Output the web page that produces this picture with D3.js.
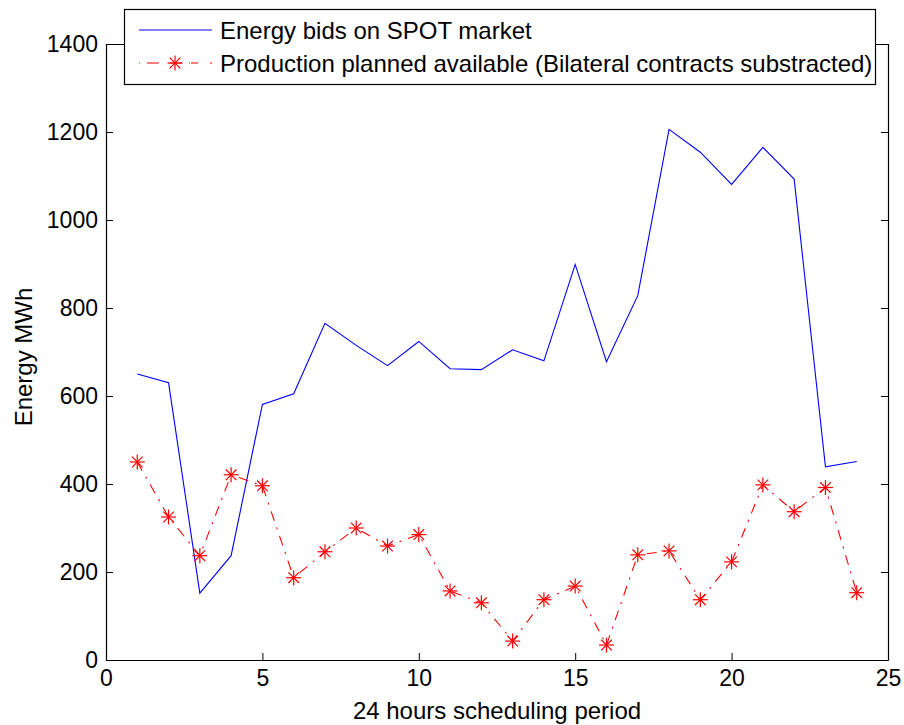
<!DOCTYPE html>
<meta charset="utf-8">
<script src="https://d3js.org/d3.v7.min.js"></script>
<style>
  body { margin: 0; background: #fff; }
  text { font-family: "Liberation Sans", Arial, sans-serif; }
</style>
<div id="chart"></div>
<script>
  // data
  var hours = d3.range(1, 25);
  var spotBids = [650, 630, 152, 237, 581, 605, 765, 715, 669, 724, 662, 660,
                  705, 680, 899, 678, 828, 1206, 1154, 1081, 1165, 1093, 439, 451];
  var planned = [450, 325, 237, 421, 396, 187, 246, 300, 259, 285, 157, 130,
                 43, 137, 168, 34, 239, 248, 137, 223, 398, 337, 392, 153];
  var xTicks = [0, 5, 10, 15, 20, 25];
  var yTicks = [0, 200, 400, 600, 800, 1000, 1200, 1400];
  var legendLabels = ["Energy bids on SPOT market",
                      "Production planned available (Bilateral contracts substracted)"];

  var margin = {top: 44, right: 16, bottom: 65, left: 106},
      width = 904 - margin.left - margin.right,
      height = 725 - margin.top - margin.bottom;

  var svg = d3.select("#chart").append("svg")
      .attr("width", 904)
      .attr("height", 725);
  var g = svg.append("g")
      .attr("transform", "translate(" + margin.left + "," + margin.top + ")");

  var x = d3.scaleLinear().domain([0, 25]).range([0, width]);
  var y = d3.scaleLinear().domain([0, 1400]).range([height, 0]);

  // axes with inward ticks on all four sides
  function styleAxis(sel) {
    sel.select(".domain").attr("stroke", "#000").attr("stroke-width", 1.2);
    sel.selectAll(".tick line").attr("stroke", "#000");
    sel.selectAll("text").attr("font-size", 23).attr("fill", "#000");
  }
  g.append("g")
      .attr("transform", "translate(0," + height + ")")
      .call(d3.axisBottom(x).tickValues(xTicks).tickSize(-7).tickSizeOuter(0)
            .tickPadding(10).tickFormat(d3.format("d")))
      .call(styleAxis);
  g.append("g")
      .call(d3.axisTop(x).tickValues(xTicks).tickSize(-7).tickSizeOuter(0).tickFormat(""))
      .call(styleAxis);
  g.append("g")
      .call(d3.axisLeft(y).tickValues(yTicks).tickSize(-7).tickSizeOuter(0)
            .tickPadding(8).tickFormat(d3.format("d")))
      .call(styleAxis);
  g.append("g")
      .attr("transform", "translate(" + width + ",0)")
      .call(d3.axisRight(y).tickValues(yTicks).tickSize(-7).tickSizeOuter(0).tickFormat(""))
      .call(styleAxis);

  var line = d3.line()
      .x(function(d, i) { return x(hours[i]); })
      .y(function(d) { return y(d); });

  g.append("path")
      .datum(spotBids)
      .attr("fill", "none")
      .attr("stroke", "#0000ff")
      .attr("stroke-width", 1.1)
      .attr("d", line);

  g.append("path")
      .datum(planned)
      .attr("fill", "none")
      .attr("stroke", "#ff0000")
      .attr("stroke-width", 1.1)
      .attr("stroke-dasharray", "10,7,2,7")
      .attr("d", line);

  // asterisk markers
  function star(sel, r) {
    var d = r * 0.7071;
    sel.append("line").attr("x1", -r).attr("x2", r).attr("y1", 0).attr("y2", 0);
    sel.append("line").attr("x1", 0).attr("x2", 0).attr("y1", -r).attr("y2", r);
    sel.append("line").attr("x1", -d).attr("x2", d).attr("y1", -d).attr("y2", d);
    sel.append("line").attr("x1", -d).attr("x2", d).attr("y1", d).attr("y2", -d);
  }
  g.selectAll(".mark")
      .data(planned)
      .enter().append("g")
      .attr("class", "mark")
      .attr("transform", function(d, i) { return "translate(" + x(hours[i]) + "," + y(d) + ")"; })
      .attr("stroke", "#ff0000")
      .attr("stroke-width", 1.2)
      .each(function() { star(d3.select(this), 7.5); });

  // axis labels
  svg.append("text")
      .attr("x", margin.left + width / 2)
      .attr("y", 719)
      .attr("text-anchor", "middle")
      .attr("font-size", 24)
      .text("24 hours scheduling period");
  svg.append("text")
      .attr("transform", "translate(32,357) rotate(-90)")
      .attr("text-anchor", "middle")
      .attr("font-size", 24)
      .text("Energy MWh");

  // legend
  var lg = svg.append("g");
  lg.append("rect")
      .attr("x", 124.5).attr("y", 9.5)
      .attr("width", 751).attr("height", 75)
      .attr("fill", "#fff")
      .attr("stroke", "#000")
      .attr("stroke-width", 1.2);
  lg.append("line")
      .attr("x1", 139).attr("x2", 212).attr("y1", 30).attr("y2", 30)
      .attr("stroke", "#0000ff").attr("stroke-width", 1.1);
  lg.append("line")
      .attr("x1", 139).attr("x2", 212).attr("y1", 63).attr("y2", 63)
      .attr("stroke", "#ff0000").attr("stroke-width", 1.1)
      .attr("stroke-dasharray", "1,7,12,5,0,6,12,7,1");
  lg.append("g")
      .attr("transform", "translate(175,63)")
      .attr("stroke", "#ff0000")
      .attr("stroke-width", 1.2)
      .call(star, 7.5);
  lg.selectAll(".lt")
      .data(legendLabels)
      .enter().append("text")
      .attr("class", "lt")
      .attr("x", 220)
      .attr("y", function(d, i) { return 38.5 + i * 33; })
      .attr("font-size", 24)
      .text(function(d) { return d; });
</script>
